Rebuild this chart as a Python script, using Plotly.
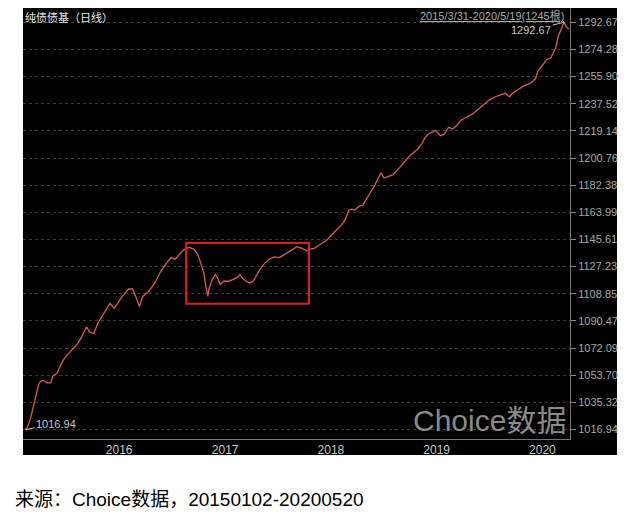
import plotly.graph_objects as go

dates = [
    "2015-03-31", "2015-04-03", "2015-04-08", "2015-04-18", "2015-04-25", "2015-05-02", "2015-05-09",
    "2015-05-16", "2015-05-23", "2015-06-03", "2015-06-13", "2015-06-27", "2015-07-04", "2015-07-18",
    "2015-08-01", "2015-08-15", "2015-09-06", "2015-09-27", "2015-10-11", "2015-10-28", "2015-11-08",
    "2015-11-22", "2015-12-06", "2015-12-27",
    "2016-01-17", "2016-02-01", "2016-02-17", "2016-02-29", "2016-03-21", "2016-04-04", "2016-04-15",
    "2016-04-28", "2016-05-09", "2016-05-30", "2016-06-20", "2016-07-11", "2016-08-01", "2016-08-15",
    "2016-08-29", "2016-09-12", "2016-09-24", "2016-10-08", "2016-10-18", "2016-11-01", "2016-11-15",
    "2016-11-25", "2016-12-06", "2016-12-13", "2016-12-20", "2016-12-23",
    "2017-01-04", "2017-01-15", "2017-01-25", "2017-02-01", "2017-02-12", "2017-03-01", "2017-03-15",
    "2017-03-29", "2017-04-10", "2017-04-20", "2017-05-01", "2017-05-14", "2017-05-25", "2017-06-08",
    "2017-06-22", "2017-07-06", "2017-07-20", "2017-08-06", "2017-08-24", "2017-09-07", "2017-09-21",
    "2017-10-10", "2017-10-24", "2017-11-10", "2017-11-27", "2017-12-08", "2017-12-22",
    "2018-01-05", "2018-01-19", "2018-02-02", "2018-02-19", "2018-03-02", "2018-03-16", "2018-03-30",
    "2018-04-10", "2018-04-20", "2018-04-30", "2018-05-11", "2018-05-25", "2018-06-08", "2018-06-22",
    "2018-07-06", "2018-07-20", "2018-07-31", "2018-08-10", "2018-08-20", "2018-09-07", "2018-09-21",
    "2018-10-12", "2018-10-26", "2018-11-16", "2018-11-30", "2018-12-14", "2018-12-28",
    "2019-01-09", "2019-01-20", "2019-02-03", "2019-02-14", "2019-03-03", "2019-03-17", "2019-03-31",
    "2019-04-14", "2019-04-28", "2019-05-12", "2019-06-02", "2019-06-23", "2019-07-14", "2019-08-04",
    "2019-08-18", "2019-09-08", "2019-09-29", "2019-10-13", "2019-10-27", "2019-11-07", "2019-11-24",
    "2019-12-15",
    "2020-01-08", "2020-01-25", "2020-02-02", "2020-02-19", "2020-03-04", "2020-03-18", "2020-03-29",
    "2020-04-04", "2020-04-13", "2020-04-23", "2020-05-03", "2020-05-11", "2020-05-19",
]

nav = [
    1017.60, 1016.94, 1018.80, 1024.50, 1030.23, 1035.96, 1042.84,
    1047.42, 1049.72, 1050.17, 1048.57, 1048.57, 1053.15, 1054.76,
    1061.18, 1065.76, 1070.34, 1074.93, 1079.51, 1086.39, 1082.95,
    1081.80, 1088.68, 1095.56,
    1102.43, 1099.00, 1103.58, 1107.02, 1112.06, 1112.06, 1107.02,
    1100.14, 1107.02, 1110.45, 1116.18, 1124.21, 1129.94, 1133.37,
    1132.23, 1135.67, 1137.96, 1139.79, 1140.25, 1139.10, 1135.67,
    1129.94, 1123.06, 1113.89, 1107.02, 1111.60,
    1118.48, 1121.91, 1118.48, 1115.04, 1117.33, 1117.33, 1118.48,
    1119.62, 1121.91, 1118.94, 1117.33, 1116.18, 1117.33, 1121.91,
    1126.50, 1129.94, 1132.23, 1133.83, 1133.37, 1134.98, 1136.81,
    1139.10, 1140.71, 1139.56, 1137.96, 1139.10, 1139.56,
    1141.40, 1143.23, 1144.83, 1148.27, 1150.56, 1152.86, 1156.29,
    1159.73, 1165.46, 1166.15, 1165.46, 1167.98, 1168.90, 1173.48,
    1178.06, 1182.65, 1187.23, 1190.67, 1187.23, 1188.38, 1189.52,
    1194.11, 1197.55, 1202.13, 1204.42, 1206.72, 1210.16,
    1214.74, 1217.03, 1218.18, 1219.32, 1215.89, 1217.03, 1221.61,
    1220.47, 1222.76, 1226.20, 1228.49, 1230.78, 1234.22, 1237.66,
    1239.95, 1242.24, 1243.39, 1244.54, 1242.24, 1244.54, 1246.83,
    1249.58,
    1251.41, 1254.39, 1259.43, 1264.02, 1267.46, 1268.60, 1273.19,
    1275.48, 1283.50, 1288.08, 1292.67, 1289.23, 1288.08,
]

y_ticks = [1016.94, 1035.32, 1053.70, 1072.09, 1090.47, 1108.85, 1127.23, 1145.61,
           1163.99, 1182.38, 1200.76, 1219.14, 1237.52, 1255.90, 1274.28, 1292.67]
y_tick_labels = ["%.2f" % v for v in y_ticks]

x_ticks = ["2016-01-01", "2017-01-01", "2018-01-01", "2019-01-01", "2020-01-01"]
x_tick_labels = ["2016", "2017", "2018", "2019", "2020"]

box_x = ["2016-10-06", "2017-12-04"]
box_y = [1102.0, 1143.2]

max_point = ("2020-05-03", 1292.67)
min_point = ("2015-04-03", 1016.94)

fig = go.Figure()
fig.add_trace(go.Scatter(
    x=dates, y=nav, mode="lines",
    line=dict(color="#d85c5c", width=1.3),
    hoverinfo="x+y", showlegend=False,
))

fig.add_shape(type="rect", xref="paper", yref="paper",
              x0=0, x1=1.0859, y0=-0.0371, y1=1.0,
              fillcolor="black", line=dict(width=0), layer="below")
fig.add_shape(type="rect", xref="x", yref="y",
              x0=box_x[0], x1=box_x[1], y0=box_y[0], y1=box_y[1],
              line=dict(color="#e01c1c", width=2), fillcolor="rgba(0,0,0,0)")

axis_font = dict(family="Liberation Sans, Arial", size=11, color="#a8a8a8")

# the page body has an 8px margin, so the figure is shifted by 8px
fig.update_layout(
    width=632, height=512,
    margin=dict(l=15, r=70, t=0, b=81),
    paper_bgcolor="white", plot_bgcolor="black",
    xaxis=dict(
        type="date", range=["2015-03-23", "2020-05-23"],
        tickvals=x_ticks, ticktext=x_tick_labels,
        ticklabelposition="outside right",
        showgrid=False, zeroline=False, ticks="",
        showline=True, linecolor="#777777", linewidth=1,
        tickfont=dict(family="Liberation Sans, Arial", size=12, color="#c8c8c8"),
    ),
    yaxis=dict(
        side="right", range=[1010.51, 1302.32],
        tickvals=y_ticks, ticktext=y_tick_labels,
        ticks="outside", ticklen=5, tickcolor="#888888",
        showgrid=True, gridcolor="#3a3a3a", griddash="dot", gridwidth=1,
        zeroline=False, showline=True, linecolor="#777777", linewidth=1,
        tickfont=axis_font,
    ),
)

cjk = "Noto Sans CJK SC, Liberation Sans"
fig.add_annotation(xref="paper", yref="paper", x=0.002, y=0.999, xanchor="left", yanchor="top",
                   text="纯债债基（日线）", showarrow=False, borderpad=0,
                   font=dict(family=cjk, size=11, color="#e8e8e8"))
fig.add_annotation(xref="paper", yref="paper", x=0.991, y=0.999, xanchor="right", yanchor="top",
                   text="<u>2015/3/31-2020/5/19(1245根)</u>", showarrow=False, borderpad=0,
                   font=dict(family="Liberation Sans, Noto Sans CJK SC", size=11, color="#a8a8a8"))
fig.add_annotation(x=max_point[0], y=max_point[1], text="%.2f" % max_point[1],
                   showarrow=True, ax=-33, ay=8, arrowhead=0, arrowwidth=1, arrowcolor="#c8c8c8",
                   font=dict(family="Liberation Sans", size=11, color="#c8c8c8"))
fig.add_annotation(x=min_point[0], y=min_point[1], text="%.2f" % min_point[1],
                   showarrow=True, ax=30, ay=-6, arrowhead=0, arrowwidth=1, arrowcolor="#c8c8c8",
                   font=dict(family="Liberation Sans", size=11, color="#c8c8c8"))
fig.add_annotation(xref="paper", yref="paper", x=0.852, y=0.044, xanchor="center", yanchor="middle",
                   text="Choice数据", showarrow=False,
                   font=dict(family="Liberation Sans, Noto Sans CJK SC", size=30, color="#8a8a8a"))
fig.add_annotation(xref="paper", yref="paper", x=-0.0183, y=-0.1415, xanchor="left", yanchor="middle",
                   text="来源：Choice数据，20150102-20200520", showarrow=False,
                   font=dict(family="Liberation Sans, Noto Sans CJK SC", size=19, color="black"))

fig.write_html("out.html")
